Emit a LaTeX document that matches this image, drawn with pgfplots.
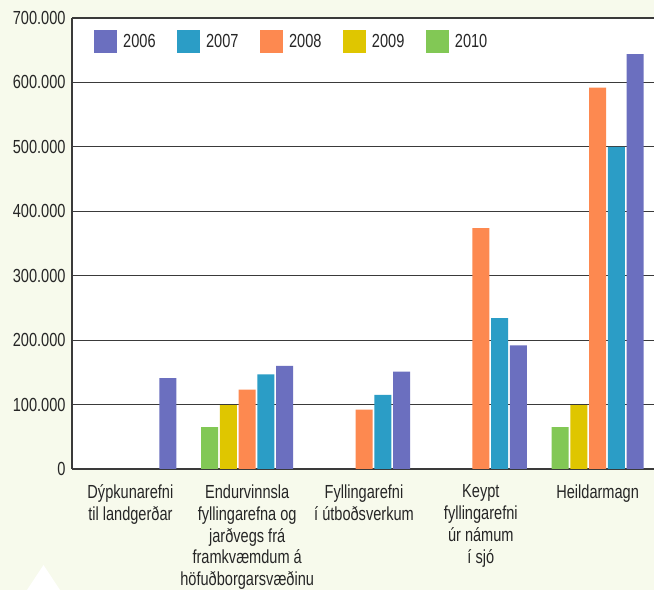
\documentclass[border=0pt]{standalone}
\usepackage{fontspec}
\setmainfont{Liberation Sans}[FakeStretch=0.77]
\usepackage{pgfplots}
\pgfplotsset{compat=1.18}
\definecolor{bgcream}{HTML}{F7FAEC}
\definecolor{cA}{HTML}{6B6FBF}
\definecolor{cB}{HTML}{2B9DC6}
\definecolor{cC}{HTML}{FD8950}
\definecolor{cD}{HTML}{DFC600}
\definecolor{cE}{HTML}{82C855}
\definecolor{gridc}{HTML}{3A3A3A}
\begin{document}
\begin{tikzpicture}[x=1bp,y=1bp]
\useasboundingbox (0,0) rectangle (654,590);
\clip (0,0) rectangle (654,590);
\fill[bgcream] (0,0) rectangle (654,590);
\fill[white] (27,0) -- (43.5,25) -- (60,0) -- cycle;
\begin{axis}[
  at={(72bp,121bp)}, anchor=south west,
  scale only axis, width=584bp, height=451bp,
  xmin=-0.5, xmax=4.5, ymin=0, ymax=700000,
  axis background/.style={fill=white},
  axis x line*=bottom, axis y line*=left,
  axis line style={line width=1.1pt, color=gridc, -},
  ytick={0,100000,...,700000},
  scaled y ticks=false,
  ymajorgrids, grid style={line width=1.1pt, color=gridc},
  ytick style={draw=none},
  xtick={0,1,2,3,4},
  xtick style={draw=none},
  xticklabels={{Dýpkunarefni\\til landgerðar},{Endurvinnsla\\fyllingarefna og\\jarðvegs frá\\framkvæmdum á\\höfuðborgarsvæðinu},{Fyllingarefni\\í útboðsverkum},{Keypt\\fyllingarefni\\úr námum\\í sjó},{Heildarmagn}},
  x tick label style={align=center, anchor=north, yshift=-12bp},
  every tick label/.append style={font=\fontsize{19}{22}\selectfont, text=black!85},
  yticklabel style={xshift=-3bp},
  /pgf/number format/.cd, fixed, precision=0, 1000 sep={.}, assume math mode=true,
  /pgfplots/.cd,
  extra x ticks={0.5,1.5,2.5,3.5},
  extra x tick labels={},
  extra x tick style={grid=none, tick align=inside, major tick length=11bp, tick style={draw=gridc, line width=1.1pt}},
  legend columns=5,
  legend style={at={(rel axis cs:0,1)}, anchor=north west, xshift=22bp, yshift=-12bp, draw=none, fill=none, inner sep=0pt, font=\fontsize{19}{22}\selectfont, text=black!85, nodes={inner sep=2bp}, /tikz/every odd column/.append style={column sep=4bp}, /tikz/every even column/.append style={column sep=19.5bp}},
  legend image code/.code={\fill[#1] (0bp,-11.5bp) rectangle (23bp,11.5bp);},
]
\addplot[ybar, bar width=17bp, bar shift=37.5bp, fill=cA, draw=none] coordinates {(0,141000) (1,160000) (2,151000) (3,192000) (4,644000)};
\addlegendentry{2006}
\addplot[ybar, bar width=17bp, bar shift=18.75bp, fill=cB, draw=none] coordinates {(1,147000) (2,115000) (3,234000) (4,500000)};
\addlegendentry{2007}
\addplot[ybar, bar width=17bp, bar shift=0bp, fill=cC, draw=none] coordinates {(1,123000) (2,92000) (3,374000) (4,592000)};
\addlegendentry{2008}
\addplot[ybar, bar width=17bp, bar shift=-18.75bp, fill=cD, draw=none] coordinates {(1,99000) (4,99000)};
\addlegendentry{2009}
\addplot[ybar, bar width=17bp, bar shift=-37.5bp, fill=cE, draw=none] coordinates {(1,65000) (4,65000)};
\addlegendentry{2010}
\end{axis}
\end{tikzpicture}
\end{document}
